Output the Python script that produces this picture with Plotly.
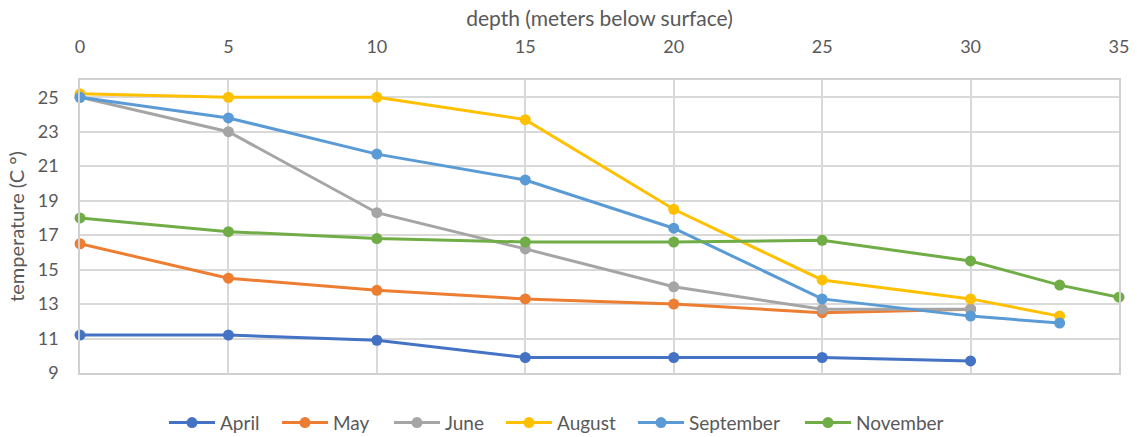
import plotly.graph_objects as go

depth_a = [0, 5, 10, 15, 20, 25, 30]
depth_b = [0, 5, 10, 15, 20, 25, 30, 33]
depth_c = [0, 5, 10, 15, 20, 25, 30, 33, 35]

april = [11.2, 11.2, 10.9, 9.9, 9.9, 9.9, 9.7]
may = [16.5, 14.5, 13.8, 13.3, 13.0, 12.5, 12.7]
june = [25.0, 23.0, 18.3, 16.2, 14.0, 12.7, 12.7]
august = [25.2, 25.0, 25.0, 23.7, 18.5, 14.4, 13.3, 12.3]
september = [25.0, 23.8, 21.7, 20.2, 17.4, 13.3, 12.3, 11.9]
november = [18.0, 17.2, 16.8, 16.6, 16.6, 16.7, 15.5, 14.1, 13.4]

series = [
    ("April", depth_a, april, "#4472C4"),
    ("May", depth_a, may, "#ED7D31"),
    ("June", depth_a, june, "#A5A5A5"),
    ("August", depth_b, august, "#FFC000"),
    ("September", depth_b, september, "#5B9BD5"),
    ("November", depth_c, november, "#70AD47"),
]

# legend entry left edges, in pixels of the figure (layout only)
legend_left_px = [164, 277, 389, 501, 633, 800]

L, R, T, B = 80, 18, 80, 64
W, H = 1137, 437
plot_w = W - L - R
plot_h = H - T - B

fig = go.Figure()
legend_layouts = {}
for i, (name, xs, ys, col) in enumerate(series):
    lname = "legend" if i == 0 else f"legend{i + 1}"
    fig.add_trace(go.Scatter(
        x=xs, y=ys, name=name, mode="lines+markers",
        line=dict(color=col, width=3),
        marker=dict(color=col, size=11),
        cliponaxis=False, legend=lname,
    ))
    legend_layouts[lname] = dict(
        orientation="h", x=(legend_left_px[i] - L) / plot_w, xanchor="left",
        y=-0.105, yanchor="top", font=dict(size=19, color="#595959"),
        itemwidth=46, bgcolor="rgba(0,0,0,0)",
    )

font_family = "Lato, 'Open Sans', sans-serif"
fig.update_layout(
    width=W, height=H,
    margin=dict(l=L, r=R, t=T, b=B, autoexpand=False),
    paper_bgcolor="white", plot_bgcolor="white",
    font=dict(family=font_family, color="#595959", size=16),
    showlegend=True,
    xaxis=dict(
        side="top", range=[0, 35], dtick=5, tick0=0,
        showgrid=True, gridcolor="#D9D9D9", gridwidth=1.5,
        showline=True, linecolor="#D0D0D0", linewidth=1.5, mirror=True,
        zeroline=False, ticks="", automargin=False, ticklabelstandoff=18,
        tickfont=dict(size=18, color="#595959"),
        title=dict(text="depth (meters below surface)", font=dict(size=21, color="#595959"), standoff=3),
    ),
    yaxis=dict(
        range=[9, 26], tickvals=[9, 11, 13, 15, 17, 19, 21, 23, 25],
        showgrid=True, gridcolor="#D9D9D9", gridwidth=1.5,
        showline=True, linecolor="#D0D0D0", linewidth=1.5, mirror=True,
        zeroline=False, ticks="", automargin=False, ticklabelstandoff=16,
        tickfont=dict(size=18, color="#595959"),
        title=dict(text="temperature (C °)", font=dict(size=20, color="#595959"), standoff=8),
    ),
    **legend_layouts,
)

fig.write_html("out.html", config={"displayModeBar": False},
               post_script="document.body.style.margin='0px';")
